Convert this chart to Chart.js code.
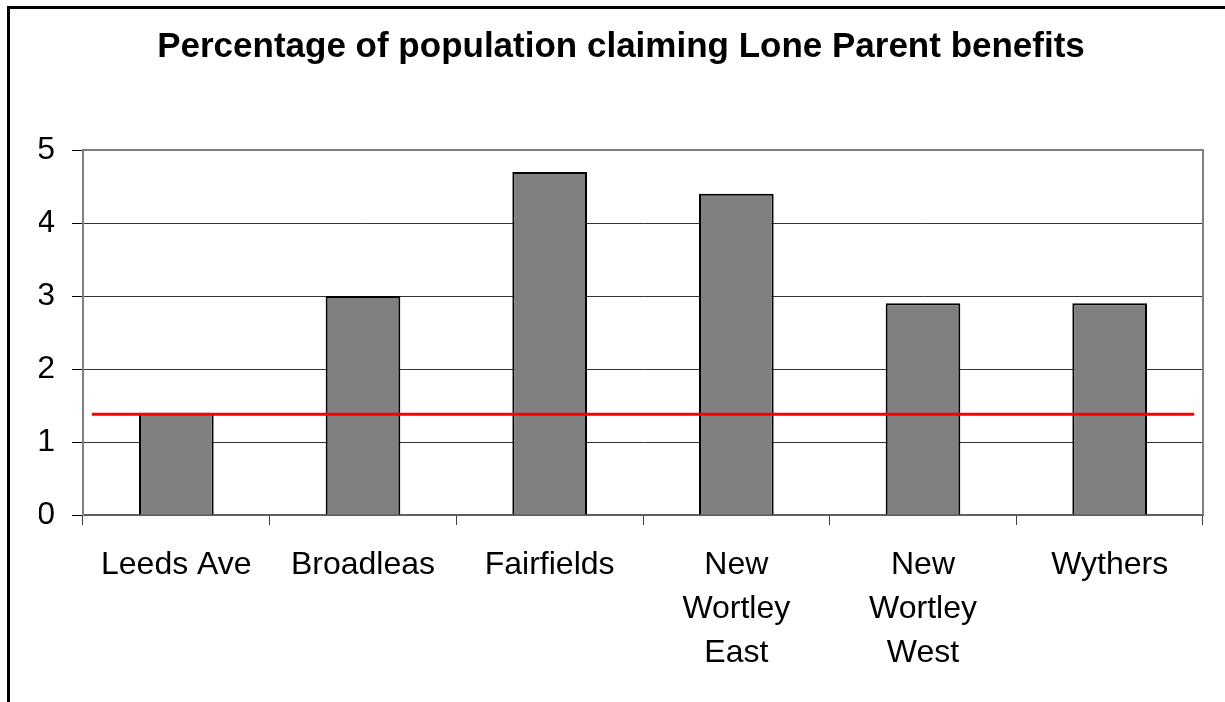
<!DOCTYPE html>
<html>
<head>
<meta charset="utf-8">
<script src="https://cdn.jsdelivr.net/npm/chart.js@4"></script>
<style>
  body { margin: 0; background: #fff; overflow: hidden; }
  #frame {
    position: absolute; left: 7px; top: 6px; width: 1400px; height: 900px;
    border-left: 3px solid #000; border-top: 3px solid #000;
  }
  #chart { position: absolute; left: 0; top: 0; }
</style>
</head>
<body>
<div id="frame"></div>
<canvas id="chart" width="1225" height="702"></canvas>
<script>
// Chart data
const categories = ['Leeds Ave', 'Broadleas', 'Fairfields', ['New', 'Wortley', 'East'], ['New', 'Wortley', 'West'], 'Wythers'];
const percentValues = [1.4, 3.0, 4.7, 4.4, 2.9, 2.9];
// red reference line (runs across the whole plot)
const refLineX = [0, 1];
const refLineY = [1.38, 1.38];
const yTicks = [0, 1, 2, 3, 4, 5];

const fontFamily = '"Liberation Sans", Arial, sans-serif';

// gray frame on the top and right of the plot area
const plotFrame = {
    id: 'plotFrame',
    beforeDatasetsDraw(chart) {
        const { ctx, chartArea } = chart;
        ctx.save();
        ctx.strokeStyle = '#808080';
        ctx.lineWidth = 2;
        ctx.beginPath();
        ctx.moveTo(chartArea.left, chartArea.top);
        ctx.lineTo(chartArea.right, chartArea.top);
        ctx.lineTo(chartArea.right, chartArea.bottom);
        ctx.stroke();
        ctx.restore();
    }
};

new Chart(document.getElementById('chart'), {
    type: 'bar',
    data: {
        labels: categories,
        datasets: [
            {
                type: 'bar',
                data: percentValues,
                backgroundColor: '#808080',
                borderColor: '#000',
                borderWidth: 2,
                barPercentage: 0.4,
                categoryPercentage: 1.0,
                grouped: false,
                order: 2
            },
            {
                type: 'line',
                xAxisID: 'xLine',
                data: refLineX.map((x, i) => ({ x: x, y: refLineY[i] })),
                borderColor: '#ff0000',
                borderWidth: 3,
                pointRadius: 0,
                fill: false,
                order: 1
            }
        ]
    },
    options: {
        responsive: false,
        animation: false,
        layout: { padding: { left: 39, right: 22, top: 0, bottom: 0 } },
        plugins: {
            legend: { display: false },
            tooltip: { enabled: false },
            title: {
                display: true,
                text: 'Percentage of population claiming Lone Parent benefits',
                color: '#000',
                font: { family: fontFamily, size: 35, weight: 'bold', lineHeight: 1.2 },
                padding: { top: 26, bottom: 82 }
            }
        },
        scales: {
            x: {
                offset: true,
                grid: {
                    offset: true,
                    drawOnChartArea: false,
                    drawTicks: true,
                    tickLength: 10,
                    color: '#404040'
                },
                border: { color: '#606060', width: 2 },
                ticks: {
                    color: '#000',
                    font: { family: fontFamily, size: 32, lineHeight: 1.375 },
                    padding: 18,
                    maxRotation: 0,
                    autoSkip: false
                },
                afterFit(scale) { scale.height = 187; }
            },
            xLine: {
                type: 'linear',
                display: false,
                offset: false,
                min: -0.008,
                max: 1.008
            },
            y: {
                min: yTicks[0],
                max: yTicks[yTicks.length - 1],
                afterBuildTicks(scale) { scale.ticks = yTicks.map(v => ({ value: v })); },
                grid: {
                    color: (c) => (c.tick && c.tick.value === 5) ? '#808080' : '#333',
                    tickColor: '#000',
                    tickLength: 11
                },
                border: { color: '#808080', width: 2 },
                ticks: {
                    color: '#000',
                    font: { family: fontFamily, size: 32 },
                    padding: 17
                },
                afterFit(scale) { scale.width = 44; }
            }
        }
    },
    plugins: [plotFrame]
});
</script>
</body>
</html>
